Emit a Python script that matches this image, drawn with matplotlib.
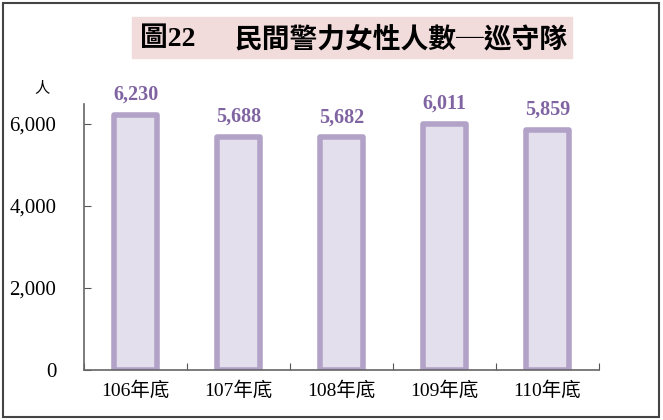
import matplotlib.pyplot as plt
import matplotlib.patches as mpatches
import numpy as np

# ─── Data ─────────────────────────────────────────────────────────────
years = ["106年底", "107年底", "108年底", "109年底", "110年底"]
counts = [6230, 5688, 5682, 6011, 5859]
yticks = [0, 2000, 4000, 6000]

SERIF = ["Liberation Serif", "Noto Sans CJK TC"]
BAR_FILL = "#E4DFEC"
BAR_EDGE = "#B3A2C7"
LABEL_C = "#8064A2"

fig = plt.figure(figsize=(6.63, 4.2), dpi=100)
ax = fig.add_axes([84 / 663, 1 - 370 / 420, 515 / 663, 266.5 / 420])

x = np.arange(len(years))
ax.bar(x, counts, width=0.42, color=BAR_FILL, edgecolor=BAR_EDGE, linewidth=4,
       joinstyle="round")
for xi, v in zip(x, counts):
    ax.annotate(f"{v:,}", (xi, v), textcoords="offset points", xytext=(0, 7),
                ha="center", va="bottom", fontsize=14.5, fontweight="bold",
                color=LABEL_C, family=SERIF)

ax.set_xlim(-0.5, len(years) - 0.5)
ax.set_ylim(0, 6500)
ax.set_yticks(yticks)
ax.set_yticklabels([f"{t:,}" for t in yticks], family=SERIF, fontsize=15)
ax.set_xticks(np.arange(len(years) + 1) - 0.5, minor=False)
ax.set_xticklabels([])
ax.set_xticks(x, minor=True)
ax.set_xticklabels(years, minor=True, family=SERIF, fontsize=14)
ax.tick_params(axis="x", which="minor", length=0, pad=8)
ax.tick_params(axis="x", which="major", direction="in", length=5, color="#555555")
ax.tick_params(axis="y", direction="in", length=5, color="#555555", pad=20)
ax.spines[["top", "right"]].set_visible(False)
for s in ["left", "bottom"]:
    ax.spines[s].set_color("#666666")
    ax.spines[s].set_linewidth(1.2)

# unit label
fig.text(42 / 663, 1 - 88 / 420, "人", family=SERIF, fontsize=11,
         ha="center", va="center")

# title with pink box
fig.patches.append(mpatches.Rectangle((132 / 663, 1 - 58 / 420), 440 / 663, 41 / 420,
                                      transform=fig.transFigure, color="#F2DCDB", zorder=0))
fig.text(140 / 663, 1 - 39 / 420, "圖22",
         family=["Liberation Serif", "Noto Sans CJK TC"], fontsize=20, fontweight="bold",
         ha="left", va="center")
fig.text(567 / 663, 1 - 39 / 420, "民間警力女性人數─巡守隊",
         family=["Noto Sans CJK TC", "DejaVu Sans"], fontsize=20, fontweight="bold",
         ha="right", va="center")

# outer frame
fig.patches.append(mpatches.Rectangle((3 / 663, 3 / 420), 656 / 663, 414 / 420,
                                      transform=fig.transFigure, fill=False,
                                      edgecolor="#444444", linewidth=1.5))

fig.savefig("out.png", dpi=100)
